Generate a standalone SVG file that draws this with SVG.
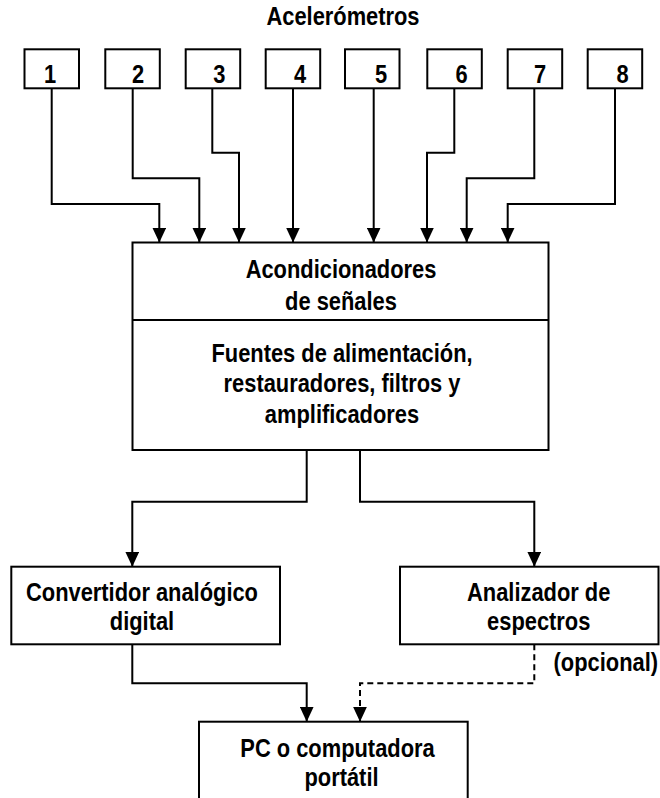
<svg xmlns="http://www.w3.org/2000/svg" width="660" height="798" viewBox="0 0 660 798">
<style>
  .box { fill: #ffffff; stroke: #000000; stroke-width: 2; }
  .line { fill: none; stroke: #000000; stroke-width: 2; }
  .dash { fill: none; stroke: #000000; stroke-width: 2; stroke-dasharray: 6 4; }
  .t { font-family: "Liberation Sans", Arial, sans-serif; font-weight: bold; font-size: 25px; fill: #000000; text-anchor: middle; }
</style>
<defs>
  <marker id="arrow" viewBox="0 0 15 14" refX="15" refY="7" markerWidth="15" markerHeight="14" markerUnits="userSpaceOnUse" orient="auto">
    <path d="M0,0 L15,7 L0,14 Z" fill="#000000"/>
  </marker>
</defs>
<rect width="660" height="798" fill="#ffffff"/>

<g id="title">
  <text class="t" transform="translate(343,24.5) scale(0.875,1)">Acelerómetros</text>
</g>

<g id="acc1"><rect class="box" x="24.5" y="49.3" width="54.5" height="39"/><text class="t" transform="translate(50,82.7) scale(0.875,1)">1</text></g>
<g id="acc2"><rect class="box" x="105.3" y="49.3" width="54.5" height="39"/><text class="t" transform="translate(138,82.7) scale(0.875,1)">2</text></g>
<g id="acc3"><rect class="box" x="185.7" y="49.3" width="54.5" height="39"/><text class="t" transform="translate(219.3,82.7) scale(0.875,1)">3</text></g>
<g id="acc4"><rect class="box" x="265.7" y="49.3" width="54.5" height="39"/><text class="t" transform="translate(300,82.7) scale(0.875,1)">4</text></g>
<g id="acc5"><rect class="box" x="345" y="49.3" width="54.5" height="39"/><text class="t" transform="translate(381,82.7) scale(0.875,1)">5</text></g>
<g id="acc6"><rect class="box" x="427.3" y="49.3" width="54.5" height="39"/><text class="t" transform="translate(461.7,82.7) scale(0.875,1)">6</text></g>
<g id="acc7"><rect class="box" x="507.7" y="49.3" width="54.5" height="39"/><text class="t" transform="translate(540,82.7) scale(0.875,1)">7</text></g>
<g id="acc8"><rect class="box" x="587.7" y="49.3" width="54.5" height="39"/><text class="t" transform="translate(622.7,82.7) scale(0.875,1)">8</text></g>

<g id="acondicionadores">
  <rect class="box" x="132.5" y="242.5" width="416" height="207.5"/>
  <line class="line" x1="132.5" y1="320" x2="548.5" y2="320"/>
  <text class="t" transform="translate(341,278) scale(0.875,1)">Acondicionadores</text>
  <text class="t" transform="translate(341,309.5) scale(0.875,1)">de señales</text>
  <text class="t" transform="translate(342,361.5) scale(0.875,1)">Fuentes de alimentación,</text>
  <text class="t" transform="translate(342,392) scale(0.875,1)">restauradores, filtros y</text>
  <text class="t" transform="translate(342,422.5) scale(0.875,1)">amplificadores</text>
</g>

<g id="convertidor">
  <rect class="box" x="11.3" y="566.7" width="268.7" height="77.6"/>
  <text class="t" transform="translate(142,600.5) scale(0.875,1)">Convertidor analógico</text>
  <text class="t" transform="translate(142,630) scale(0.875,1)">digital</text>
</g>

<g id="analizador">
  <rect class="box" x="400" y="566.7" width="258.5" height="77.6"/>
  <text class="t" transform="translate(538.7,600.5) scale(0.875,1)">Analizador de</text>
  <text class="t" transform="translate(538.7,630) scale(0.875,1)">espectros</text>
</g>

<g id="pc">
  <rect class="box" x="199" y="721.7" width="268.7" height="90"/>
  <text class="t" transform="translate(337.5,757) scale(0.875,1)">PC o computadora</text>
  <text class="t" transform="translate(341.5,786) scale(0.875,1)">portátil</text>
</g>

<g id="connectors">
  <path class="line" marker-end="url(#arrow)" d="M51.7,88.3 V204 H159.3 V242.5"/>
  <path class="line" marker-end="url(#arrow)" d="M132.7,88.3 V178.3 H199.3 V242.5"/>
  <path class="line" marker-end="url(#arrow)" d="M212.3,88.3 V152.7 H239 V242.5"/>
  <path class="line" marker-end="url(#arrow)" d="M293,88.3 V242.5"/>
  <path class="line" marker-end="url(#arrow)" d="M373.7,88.3 V242.5"/>
  <path class="line" marker-end="url(#arrow)" d="M454.3,88.3 V152.7 H427 V242.5"/>
  <path class="line" marker-end="url(#arrow)" d="M534.3,88.3 V178.3 H466.7 V242.5"/>
  <path class="line" marker-end="url(#arrow)" d="M615,88.3 V204 H507.7 V242.5"/>
  <path class="line" marker-end="url(#arrow)" d="M306.7,450 V501.7 H132.3 V566.7"/>
  <path class="line" marker-end="url(#arrow)" d="M360,450 V501.7 H534.3 V566.7"/>
  <path class="line" marker-end="url(#arrow)" d="M132.3,644.3 V683.3 H306.7 V721.7"/>
  <path class="dash" marker-end="url(#arrow)" d="M534.3,644.3 V683.3 H360 V721.7"/>
  <text class="t" transform="translate(605.8,671) scale(0.875,1)">(opcional)</text>
</g>
</svg>
